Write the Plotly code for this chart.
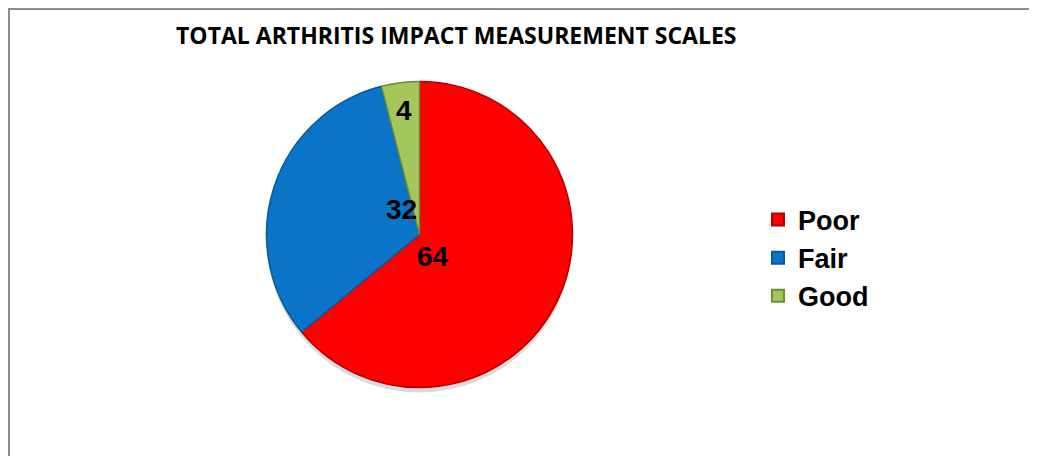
import plotly.graph_objects as go

categories = ["Poor", "Fair", "Good"]
values = [64, 32, 4]
colors = ["#FE0000", "#0A74C8", "#A3C75A"]
edge_colors = ["#B00000", "#065A9E", "#6E8C35"]
title_text = "TOTAL ARTHRITIS IMPACT MEASUREMENT SCALES"

W, H = 1037, 456
OFF = 8  # page body margin
cx, cy, r = 419.5, 234.5, 153

def px_x(x):
    return (x - OFF) / W

def px_y(y):
    return 1 - (y - OFF) / H

fig = go.Figure()

# soft drop shadow under the pie
fig.add_trace(go.Pie(
    values=[sum(values)],
    marker=dict(colors=["rgba(150,150,150,0.35)"], line=dict(width=0)),
    domain=dict(x=[px_x(cx - r), px_x(cx + r)],
                y=[px_y(cy + r + 5), px_y(cy - r + 5)]),
    textinfo="none", hoverinfo="skip", showlegend=False, sort=False,
))

fig.add_trace(go.Pie(
    labels=categories,
    values=values,
    sort=False,
    direction="clockwise",
    rotation=0,
    marker=dict(colors=colors, line=dict(color=edge_colors, width=1.5)),
    textinfo="none",
    domain=dict(x=[px_x(cx - r), px_x(cx + r)], y=[px_y(cy + r), px_y(cy - r)]),
    showlegend=True,
))

# data labels (values from the data arrays)
label_pos = {"Good": (404, 110), "Fair": (401, 210), "Poor": (433, 256)}
for cat, val in zip(categories, values):
    x, y = label_pos[cat]
    fig.add_annotation(
        x=px_x(x), y=px_y(y), xref="paper", yref="paper",
        text=f"<b>{val}</b>", showarrow=False,
        font=dict(family="Liberation Sans, Arial", size=28, color="black"),
        xanchor="center", yanchor="middle",
    )

fig.add_annotation(
    x=px_x(456.5), y=px_y(35), xref="paper", yref="paper",
    text=f"<b>{title_text}</b>", showarrow=False,
    font=dict(family="Open Sans", size=23, color="black"),
    xanchor="center", yanchor="middle",
)

# chart area border
fig.add_shape(type="rect", xref="paper", yref="paper",
              x0=1 / W, y0=-0.05, x1=1.05, y1=1 - 1 / H,
              line=dict(color="#8C8C8C", width=2), fillcolor="rgba(0,0,0,0)")

fig.update_layout(
    width=W, height=H,
    margin=dict(l=0, r=0, t=0, b=0),
    paper_bgcolor="white", plot_bgcolor="white",
    legend=dict(
        x=px_x(758), y=px_y(258), xanchor="left", yanchor="middle",
        font=dict(family="Liberation Sans, Arial", size=27, color="black", weight="bold"),
        itemsizing="constant", tracegroupgap=0,
        bgcolor="rgba(0,0,0,0)",
    ),
)

fig.write_html("out.html")
